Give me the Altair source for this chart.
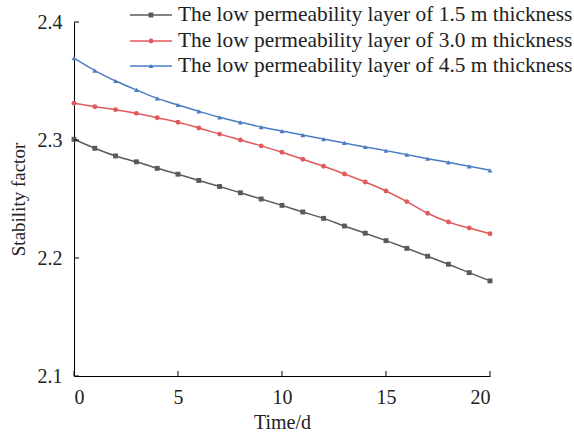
import altair as alt
import pandas as pd

days = list(range(21))
s15 = [2.3006, 2.2930, 2.2865, 2.2815, 2.2760, 2.2710, 2.2657, 2.2606, 2.2553, 2.2500,
       2.2446, 2.2390, 2.2336, 2.2271, 2.2210, 2.2147, 2.2082, 2.2015, 2.1947, 2.1876, 2.1806]
s30 = [2.3311, 2.3282, 2.3257, 2.3226, 2.3189, 2.3150, 2.3102, 2.3050, 2.3000, 2.2950,
       2.2896, 2.2837, 2.2777, 2.2712, 2.2644, 2.2568, 2.2478, 2.2379, 2.2305, 2.2254, 2.2206]
s45 = [2.3693, 2.3588, 2.3500, 2.3424, 2.3353, 2.3297, 2.3243, 2.3192, 2.3150, 2.3110,
       2.3076, 2.3042, 2.3008, 2.2975, 2.2941, 2.2910, 2.2876, 2.2842, 2.2811, 2.2777, 2.2743]
labels = ["The low permeability layer of 1.5 m thickness",
          "The low permeability layer of 3.0 m thickness",
          "The low permeability layer of 4.5 m thickness"]
colors = ["#5a5a5a", "#e05a5c", "#4a7cc4"]
shapes = ["square", "circle", "triangle-up"]
x_ticks = [0, 5, 10, 15, 20]
y_ticks = [2.1, 2.2, 2.3, 2.4]

W, H = 416, 354
FONT = "Liberation Serif"

rows = []
for lab, vals in zip(labels, [s15, s30, s45]):
    for d, v in zip(days, vals):
        rows.append({"day": d, "value": v, "series": lab})
df = pd.DataFrame(rows)

xs = alt.Scale(domain=[0, 20], nice=False)
ys = alt.Scale(domain=[2.1, 2.4], nice=False, zero=False)
cs = alt.Scale(domain=labels, range=colors)
ss = alt.Scale(domain=labels, range=shapes)

base = alt.Chart(df).encode(
    x=alt.X("day:Q", scale=xs,
            axis=alt.Axis(title="Time/d", values=x_ticks, ticks=False, grid=False,
                          domainColor="black", labelFont=FONT, titleFont=FONT,
                          labelFontSize=20, titleFontSize=20, titleFontWeight="normal",
                          labelColor="#222", titleColor="#222", labelPadding=11, titlePadding=5)),
    y=alt.Y("value:Q", scale=ys,
            axis=alt.Axis(title="Stability factor", values=y_ticks, format=".1f", ticks=False,
                          grid=False, domainColor="black", labelFont=FONT, titleFont=FONT,
                          labelFontSize=20, titleFontSize=19, titleFontWeight="normal",
                          labelColor="#222", titleColor="#222", labelPadding=12, titlePadding=9)),
    color=alt.Color("series:N", scale=cs, legend=None),
)
lines = base.mark_line(strokeWidth=1.5, interpolate="monotone")
points = base.mark_point(filled=True, opacity=1, size=24).encode(
    shape=alt.Shape("series:N", scale=ss, legend=None))

xt = alt.Chart(pd.DataFrame({"v": x_ticks})).mark_rule(color="black", strokeWidth=1).encode(
    x=alt.X("v:Q", scale=xs), y=alt.value(H), y2=alt.value(H - 5))
yt = alt.Chart(pd.DataFrame({"v": y_ticks})).mark_rule(color="black", strokeWidth=1).encode(
    y=alt.Y("v:Q", scale=ys), x=alt.value(0), x2=alt.value(5))

legend_layers = []
leg_y = [-7, 19, 44]
for lab, col, shp, ly in zip(labels, colors, shapes, leg_y):
    ldf = pd.DataFrame({"label": [lab]})
    legend_layers.append(alt.Chart(ldf).mark_rule(color=col, strokeWidth=1.5).encode(
        x=alt.value(56), x2=alt.value(98), y=alt.value(ly)))
    legend_layers.append(alt.Chart(ldf).mark_point(color=col, filled=True, opacity=1,
                                                   shape=shp, size=24).encode(
        x=alt.value(77), y=alt.value(ly)))
    legend_layers.append(alt.Chart(ldf).mark_text(align="left", baseline="middle", font=FONT,
                                                  fontSize=21.4, color="#222").encode(
        x=alt.value(104), y=alt.value(ly), text="label:N"))

chart = alt.layer(lines, points, xt, yt, *legend_layers).properties(
    width=W, height=H,
    padding={"left": 74, "top": 22, "right": 84, "bottom": 63},
    autosize=alt.AutoSizeParams(type="none"),
).configure(font=FONT).configure_axis(labelFont=FONT, titleFont=FONT).configure_view(stroke=None)

chart.save("out.html", embed_options={"renderer": "svg", "actions": False})
